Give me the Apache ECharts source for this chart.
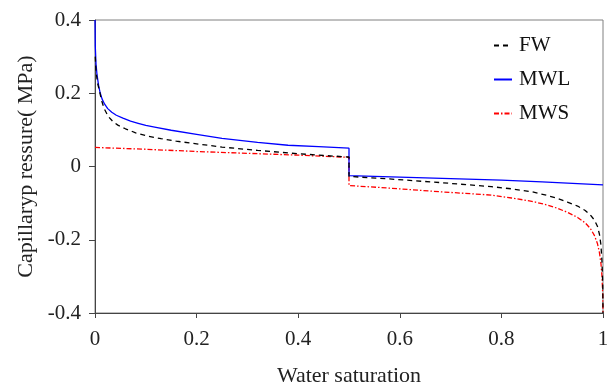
<!DOCTYPE html>
<html>
<head>
<meta charset="utf-8">
<script src="https://cdn.jsdelivr.net/npm/echarts@6/dist/echarts.min.js"></script>
<style>
html,body{margin:0;padding:0;background:#fff;}
#chart{width:610px;height:385px;}
</style>
</head>
<body>
<div id="chart"></div>
<script>
var seriesNames = ['FW', 'MWL', 'MWS'];
var xTicks = [0, 0.2, 0.4, 0.6, 0.8, 1];
var yTicks = [-0.4, -0.2, 0, 0.2, 0.4];

var fwData = [[0.0005,0.30],[0.002,0.26],[0.005,0.228],[0.009,0.205],[0.013,0.18],[0.018,0.158],[0.026,0.137],[0.035,0.123],[0.045,0.113],[0.06,0.103],[0.08,0.092],[0.104,0.083],[0.13,0.076],[0.16,0.069],[0.2,0.062],[0.25,0.053],[0.32,0.044],[0.38,0.037],[0.45,0.030],[0.5,0.026],[0.5,-0.027],[0.58,-0.034],[0.68,-0.044],[0.78,-0.055],[0.82,-0.061],[0.86,-0.069],[0.89,-0.079],[0.91,-0.087],[0.93,-0.097],[0.95,-0.108],[0.965,-0.12],[0.975,-0.132],[0.983,-0.146],[0.989,-0.163],[0.993,-0.185],[0.996,-0.215],[0.998,-0.26],[0.9995,-0.32],[1,-0.4]];

var mwlData = [[0,0.4],[0.0005,0.33],[0.002,0.28],[0.004,0.25],[0.007,0.222],[0.01,0.202],[0.014,0.184],[0.019,0.17],[0.025,0.158],[0.033,0.148],[0.042,0.140],[0.055,0.132],[0.07,0.124],[0.085,0.118],[0.1,0.112],[0.12,0.107],[0.15,0.099],[0.2,0.088],[0.25,0.077],[0.32,0.066],[0.38,0.058],[0.44,0.054],[0.5,0.05],[0.5,-0.025],[0.6,-0.029],[0.7,-0.033],[0.8,-0.037],[0.88,-0.042],[1,-0.05]];

var mwsData = [[0,0.052],[0.1,0.047],[0.2,0.041],[0.3,0.036],[0.4,0.031],[0.5,0.025],[0.5,-0.052],[0.58,-0.059],[0.68,-0.069],[0.78,-0.078],[0.82,-0.086],[0.86,-0.095],[0.89,-0.105],[0.91,-0.114],[0.93,-0.125],[0.95,-0.139],[0.965,-0.154],[0.975,-0.169],[0.983,-0.188],[0.989,-0.21],[0.993,-0.235],[0.996,-0.265],[0.998,-0.3],[0.9995,-0.35],[1,-0.4]];

var font = 'Liberation Serif';
var chart = echarts.init(document.getElementById('chart'), null, {renderer:'canvas'});
chart.setOption({
  animation: false,
  grid: {left: 95, right: 7, top: 20, bottom: 72, show: true, borderColor: '#808080', borderWidth: 1, backgroundColor: 'transparent', containLabel: false, outerBoundsMode: 'none'},
  legend: {
    orient: 'vertical', left: 488, top: 30, itemWidth: 18, itemHeight: 12, itemGap: 13,
    itemStyle: {opacity: 0},
    textStyle: {fontFamily: font, fontSize: 21, color: '#111', padding: [0,0,0,2]},
    data: seriesNames
  },
  xAxis: {
    type: 'value', min: xTicks[0], max: xTicks[xTicks.length-1], interval: 0.2,
    name: 'Water saturation', nameLocation: 'middle', nameGap: 52,
    nameTextStyle: {fontFamily: font, fontSize: 22, color: '#222'},
    axisLine: {onZero: false, lineStyle: {color: '#444', width: 1}},
    axisTick: {show: true, inside: false, length: 5, lineStyle: {color: '#444'}},
    axisLabel: {fontFamily: font, fontSize: 21, color: '#222', margin: 16},
    splitLine: {show: false}
  },
  yAxis: {
    type: 'value', min: yTicks[0], max: yTicks[yTicks.length-1], interval: 0.2,
    name: 'Capillaryp ressure( MPa)', nameLocation: 'middle', nameGap: 58,
    nameTextStyle: {fontFamily: font, fontSize: 22, color: '#222'},
    axisLine: {show: true, onZero: false, lineStyle: {color: '#444', width: 1}},
    axisTick: {show: true, inside: false, length: 6, lineStyle: {color: '#444'}},
    axisLabel: {fontFamily: font, fontSize: 21, color: '#222', margin: 14},
    splitLine: {show: false}
  },
  series: [
    {name: 'FW', type: 'line', data: fwData, showSymbol: false, symbol: 'none', z: 4,
     lineStyle: {color: '#000', width: 1.3, type: [5, 4]}, itemStyle: {color: '#000'}},
    {name: 'MWL', type: 'line', data: mwlData, showSymbol: false, symbol: 'none', z: 3,
     lineStyle: {color: '#0000ff', width: 1.3, type: 'solid'}, itemStyle: {color: '#0000ff'}},
    {name: 'MWS', type: 'line', data: mwsData, showSymbol: false, symbol: 'none', z: 2,
     lineStyle: {color: '#ff0000', width: 1.3, type: [5, 2, 1.5, 2]}, itemStyle: {color: '#ff0000'}}
  ]
});
</script>
</body>
</html>
